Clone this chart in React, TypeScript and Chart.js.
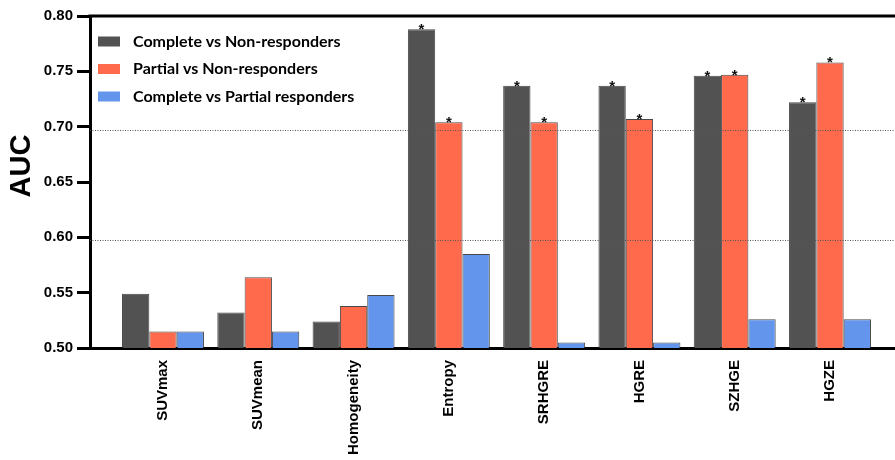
import React, { useEffect, useRef } from 'react';
import { Chart, registerables } from 'chart.js';

Chart.register(...registerables);

// Texture features on the x axis
const features = ['SUVmax', 'SUVmean', 'Homogeneity', 'Entropy', 'SRHGRE', 'HGRE', 'SZHGE', 'HGZE'];

// AUC per comparison
const completeVsNon = [0.549, 0.532, 0.524, 0.788, 0.737, 0.737, 0.746, 0.722];
const partialVsNon = [0.515, 0.564, 0.538, 0.704, 0.704, 0.707, 0.747, 0.758];
const completeVsPartial = [0.515, 0.515, 0.548, 0.585, 0.505, 0.505, 0.526, 0.526];

// Significant results, marked with a star above the bar
const sigCompleteVsNon = [false, false, false, true, true, true, true, true];
const sigPartialVsNon = [false, false, false, true, true, true, true, true];
const sigCompleteVsPartial = [false, false, false, false, false, false, false, false];

const seriesLabels = ['Complete vs Non-responders', 'Partial vs Non-responders', 'Complete vs Partial responders'];
const seriesColors = ['#525252', '#FF6A4D', '#6495ED'];

const yTitle = 'AUC';
const yMin = 0.5;
const yMax = 0.8;
const yStep = 0.05;
const referenceLines = [0.7, 0.6];

const toPoints = (values: number[]) => values.map((y, x) => ({ x, y }));

const decorPlugin = {
  id: 'decor',
  afterDatasetsDraw(chart: any) {
    const { ctx, chartArea } = chart;
    const yScale = chart.scales.y;
    ctx.save();
    // dotted reference lines
    ctx.strokeStyle = '#555';
    ctx.lineWidth = 1;
    ctx.setLineDash([1, 1.5]);
    referenceLines.forEach((v) => {
      const py = Math.round(yScale.getPixelForValue(v)) + 3.5;
      ctx.beginPath();
      ctx.moveTo(chartArea.left, py);
      ctx.lineTo(chartArea.right, py);
      ctx.stroke();
    });
    ctx.setLineDash([]);
    // top frame
    ctx.strokeStyle = '#000';
    ctx.lineWidth = 3;
    ctx.beginPath();
    ctx.moveTo(chartArea.left - 1.5, yScale.getPixelForValue(yMax));
    ctx.lineTo(chartArea.right, yScale.getPixelForValue(yMax));
    ctx.stroke();
    // significance stars
    const flags = [sigCompleteVsNon, sigPartialVsNon, sigCompleteVsPartial];
    ctx.fillStyle = '#111';
    ctx.font = 'bold 15px "Liberation Sans", Arial, sans-serif';
    ctx.textAlign = 'center';
    ctx.textBaseline = 'alphabetic';
    flags.forEach((f, di) => {
      const meta = chart.getDatasetMeta(di);
      meta.data.forEach((bar: any, i: number) => {
        if (f[i]) ctx.fillText('*', bar.x, bar.y + 5);
      });
    });
    ctx.restore();
  },
  afterDraw(chart: any) {
    const { ctx, chartArea } = chart;
    ctx.save();
    // axis title
    ctx.fillStyle = '#000';
    ctx.font = 'bold 29px "Liberation Sans", Arial, sans-serif';
    ctx.textAlign = 'center';
    ctx.textBaseline = 'middle';
    ctx.translate(22, 166);
    ctx.rotate(-Math.PI / 2);
    ctx.fillText(yTitle, 0, 0);
    ctx.restore();

    // legend inside the plot area
    ctx.save();
    ctx.font = 'bold 16px Lato, "Liberation Sans", sans-serif';
    ctx.textBaseline = 'middle';
    ctx.textAlign = 'left';
    chart.data.datasets.forEach((ds: any, i: number) => {
      const cy = chartArea.top + 25.5 + i * 27.5;
      ctx.fillStyle = ds.backgroundColor;
      ctx.fillRect(chartArea.left + 8, cy - 5, 22, 10);
      ctx.fillStyle = '#000';
      ctx.fillText(ds.label, chartArea.left + 43, cy);
    });
    ctx.restore();
  },
};

export default function App() {
  const canvasRef = useRef<HTMLCanvasElement | null>(null);

  useEffect(() => {
    const canvas = canvasRef.current;
    if (!canvas) return;
    const series = [completeVsNon, partialVsNon, completeVsPartial];
    const chart = new Chart(canvas, {
      type: 'bar',
      data: {
        datasets: series.map((values, i) => ({
          label: seriesLabels[i],
          data: toPoints(values) as any,
          backgroundColor: seriesColors[i],
          borderColor: 'rgba(40,40,40,0.85)',
          borderWidth: 1,
          categoryPercentage: 0.86,
          barPercentage: 1,
        })),
      },
      options: {
        responsive: false,
        animation: false,
        devicePixelRatio: 1,
        layout: { padding: { top: 16, left: 0, right: 0, bottom: 0 } },
        plugins: {
          legend: { display: false },
          tooltip: { enabled: false },
        },
        scales: {
          x: {
            type: 'linear',
            min: -0.766,
            max: 7.682,
            offset: false,
            grid: { display: false },
            border: { display: true, color: '#000', width: 3 },
            afterBuildTicks: (scale: any) => {
              scale.ticks = features.map((_, i) => ({ value: i }));
            },
            afterFit: (scale: any) => {
              scale.height = 112;
            },
            ticks: {
              autoSkip: false,
              minRotation: 90,
              maxRotation: 90,
              padding: 4,
              color: '#000',
              font: { family: '"Liberation Sans", Arial, sans-serif', size: 15, weight: 'bold' },
              callback: (v: any) => features[Number(v)] ?? '',
            },
          },
          y: {
            min: yMin,
            max: yMax,
            afterFit: (scale: any) => {
              scale.width = 90;
            },
            grid: {
              display: true,
              drawOnChartArea: false,
              drawTicks: true,
              tickLength: 13,
              tickWidth: 3,
              tickColor: '#000',
            },
            border: { display: true, color: '#000', width: 3 },
            title: { display: false },
            ticks: {
              stepSize: yStep,
              padding: 4,
              color: '#000',
              font: { family: '"Liberation Sans", Arial, sans-serif', size: 15, weight: 'bold' },
              callback: (v: any) => Number(v).toFixed(2),
            },
          },
        },
      },
      plugins: [decorPlugin],
    });
    return () => chart.destroy();
  }, []);

  return (
    <div style={{ position: 'fixed', left: 0, top: 0, width: 895, height: 460, background: '#fff' }}>
      <canvas ref={canvasRef} width={895} height={460} />
    </div>
  );
}
